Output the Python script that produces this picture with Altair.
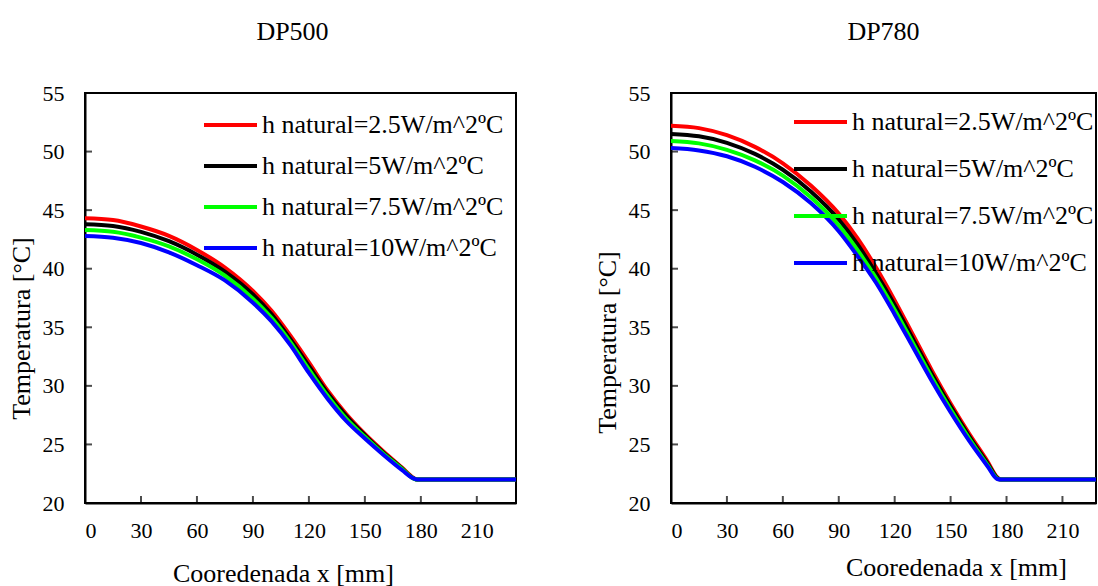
import altair as alt
import pandas as pd

series = ["h natural=2.5W/m^2ºC", "h natural=5W/m^2ºC",
          "h natural=7.5W/m^2ºC", "h natural=10W/m^2ºC"]
colors = ["#ff0000", "#000000", "#00ff00", "#0000ff"]

x_ticks = [0, 30, 60, 90, 120, 150, 180, 210]
y_ticks = [20, 25, 30, 35, 40, 45, 50, 55]

# DP500
x_500 = [0, 15, 30, 45, 60, 75, 90, 100, 110, 120, 130, 140, 150, 160, 170, 176, 178, 185, 231]
t500_25 = [44.3, 44.15, 43.6, 42.8, 41.6, 40.1, 38.1, 36.4, 34.3, 32.0, 29.6, 27.6, 25.9, 24.4, 23.0, 22.15, 22.0, 22.0, 22.0]
t500_5 = [43.8, 43.65, 43.15, 42.35, 41.2, 39.75, 37.8, 36.1, 34.0, 31.7, 29.4, 27.45, 25.8, 24.3, 22.95, 22.12, 22.0, 22.0, 22.0]
t500_75 = [43.3, 43.15, 42.65, 41.9, 40.8, 39.4, 37.45, 35.8, 33.75, 31.4, 29.15, 27.2, 25.65, 24.2, 22.9, 22.1, 22.0, 22.0, 22.0]
t500_10 = [42.8, 42.65, 42.2, 41.4, 40.3, 39.0, 37.1, 35.5, 33.5, 31.1, 28.9, 27.0, 25.5, 24.1, 22.8, 22.1, 22.0, 22.0, 22.0]

# DP780
x_780 = [0, 15, 30, 45, 60, 75, 90, 100, 110, 120, 130, 140, 150, 160, 170, 175, 177, 185, 228]
t780_25 = [52.2, 52.0, 51.4, 50.4, 49.0, 47.1, 44.7, 42.6, 40.1, 37.3, 34.3, 31.3, 28.5, 25.9, 23.5, 22.2, 22.0, 22.0, 22.0]
t780_5 = [51.5, 51.3, 50.75, 49.8, 48.45, 46.6, 44.2, 42.1, 39.6, 36.9, 33.95, 31.0, 28.25, 25.7, 23.35, 22.15, 22.0, 22.0, 22.0]
t780_75 = [50.9, 50.7, 50.15, 49.25, 47.95, 46.1, 43.7, 41.6, 39.2, 36.5, 33.6, 30.7, 28.0, 25.5, 23.2, 22.1, 22.0, 22.0, 22.0]
t780_10 = [50.3, 50.1, 49.6, 48.7, 47.4, 45.6, 43.2, 41.1, 38.8, 36.1, 33.25, 30.4, 27.75, 25.3, 23.1, 22.05, 22.0, 22.0, 22.0]

FONT = "Liberation Serif"


def long_df(xs, curves):
    rows = []
    for name, ys in zip(series, curves):
        for xv, yv in zip(xs, ys):
            rows.append({"x": xv, "T": yv, "serie": name})
    return pd.DataFrame(rows)


def panel(title, xs, curves, xmax, w, h, leg_x, leg_y, row_pad,
          xt_x, xt_y, yt_x, yt_y, title_dx):
    df = long_df(xs, curves)
    X = alt.X("x:Q", scale=alt.Scale(domain=[0, xmax], nice=False, zero=False),
              axis=alt.Axis(values=x_ticks, title="Cooredenada x [mm]",
                            labelFont=FONT, labelFontSize=22, labelPadding=17,
                            titleFont=FONT, titleFontSize=26,
                            titleX=xt_x, titleY=xt_y, titleAlign="center",
                            titleBaseline="middle"))
    Y = alt.Y("T:Q", scale=alt.Scale(domain=[20, 55], nice=False, zero=False),
              axis=alt.Axis(values=y_ticks, title="Temperatura [°C]",
                            labelFont=FONT, labelFontSize=22, labelPadding=21,
                            titleFont=FONT, titleFontSize=26,
                            titleX=yt_x, titleY=yt_y, titleAlign="center",
                            titleBaseline="middle", titleAngle=-90))
    lines = alt.Chart(df).mark_line(strokeWidth=4, interpolate="monotone", clip=True).encode(
        x=X, y=Y,
        color=alt.Color("serie:N", sort=series,
                        scale=alt.Scale(domain=series, range=colors),
                        legend=alt.Legend(title=None, orient="none",
                                          legendX=leg_x, legendY=leg_y,
                                          rowPadding=row_pad)),
    )
    xt = alt.Chart(pd.DataFrame({"x": x_ticks, "T": [y_ticks[0]] * len(x_ticks)})).mark_tick(
        size=14, thickness=2, color="black", clip=True, orient="vertical").encode(x=X, y=Y)
    yt = alt.Chart(pd.DataFrame({"x": [0] * len(y_ticks), "T": y_ticks})).mark_tick(
        size=14, thickness=2, color="black", clip=True, orient="horizontal").encode(x=X, y=Y)
    return alt.layer(lines, xt, yt).properties(
        width=w, height=h,
        title=alt.TitleParams(title, font=FONT, fontSize=26, fontWeight="normal",
                              anchor="middle", offset=37, color="black", dx=title_dx))


left = panel("DP500", x_500, [t500_25, t500_5, t500_75, t500_10], 231, 431, 410,
             117, 18, 13, 198, 70, -64, 235, -8)
right = panel("DP780", x_780, [t780_25, t780_5, t780_75, t780_10], 228, 425, 410,
              121, 15, 19, 285, 64, -64, 249, 0)

chart = alt.hconcat(left, right, spacing=76).resolve_scale(
    color="independent"
).resolve_legend(color="independent").properties(
    padding={"left": 7, "top": 18, "right": 0, "bottom": 0}
).configure_view(stroke="black", strokeWidth=2).configure_axis(
    domain=True, domainColor="black", domainWidth=2, ticks=False, tickSize=0,
    grid=False, labelFont=FONT, labelFontSize=22, labelColor="black",
    titleFont=FONT, titleFontSize=26, titleFontWeight="normal",
    titleColor="black"
).configure_legend(
    labelFont=FONT, labelFontSize=26, labelColor="black", symbolType="stroke",
    symbolSize=2809, symbolStrokeWidth=4, clipHeight=28, labelOffset=3, padding=0,
    labelLimit=400
).configure_title(font=FONT)

chart.save("out.html", embed_options={"renderer": "svg", "actions": False})
